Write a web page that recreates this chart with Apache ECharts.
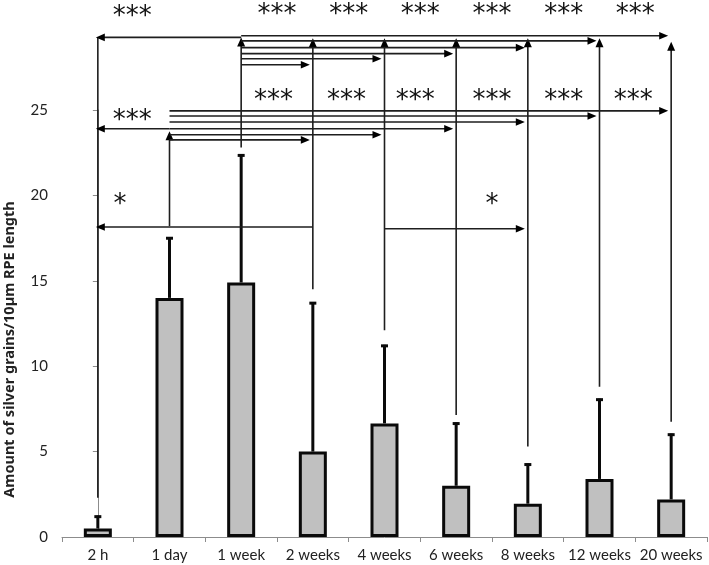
<!DOCTYPE html>
<html><head><meta charset="utf-8">
<script src="https://cdn.jsdelivr.net/npm/echarts@6/dist/echarts.min.js"></script>
<style>html,body{margin:0;padding:0;background:#fff}#c{width:709px;height:565px}</style>
</head><body><div id="c"></div>
<script>
// ---- data ----
const categories = ['2 h', '1 day', '1 week', '2 weeks', '4 weeks', '6 weeks', '8 weeks', '12 weeks', '20 weeks'];
const means = [0.5, 14.0, 14.9, 5.0, 6.65, 3.0, 1.95, 3.4, 2.2];
const errUpper = [1.25, 17.55, 22.4, 13.75, 11.25, 6.7, 4.3, 8.1, 6.05];
const yMin = 0, yMax = 25, yStep = 5;

// comparison brackets: vertical lines per category
const vertCat = [0, 1, 2, 3, 4, 5, 6, 7, 8];
const vertBottom = [2.3, 18.2, 22.8, 14.5, 12.1, 7.15, 5.3, 8.8, 6.75];
const vertTop = [29.25, 23.75, 29.25, 29.2, 29.2, 29.2, 29.2, 29.2, 29.0];
const vertArrowUp = [0, 1, 1, 1, 1, 1, 1, 1, 1];

// horizontal arrows: from category -> to category at height
const arrowFrom = [2, 2, 2, 2, 2, 2, 2, 1, 1, 1, 1, 1, 1, 1, 3, 4];
const arrowTo = [0, 8, 7, 6, 5, 4, 3, 0, 8, 7, 6, 5, 4, 3, 0, 6];
const arrowY = [29.25, 29.35, 29.05, 28.65, 28.3, 28.0, 27.65, 23.9, 24.95, 24.65, 24.3, 23.9, 23.55, 23.25, 18.15, 18.05];

// significance labels
const sigText = ['***', '***', '***', '***', '***', '***', '***', '***', '***', '***', '***', '***', '***', '***', '*', '*'];
const sigX = [0.48, 2.5, 3.5, 4.5, 5.5, 6.5, 7.5, 0.48, 2.45, 3.47, 4.43, 5.5, 6.5, 7.47, 0.31, 5.5];
const sigY = [30.9, 31.0, 31.0, 31.0, 31.0, 31.0, 31.0, 24.8, 25.95, 25.95, 25.95, 25.95, 25.95, 25.95, 19.9, 19.9];

// ---- chart ----
const chart = echarts.init(document.getElementById('c'), null, {renderer: 'canvas'});
const LINE = '#1e1e1e';
const labelFont = 'Lato, "Liberation Sans", sans-serif';
const STAR_SIZE = 26;

const option = {
  animation: false,
  backgroundColor: '#fff',
  grid: {left: 62, right: 2, top: 110, bottom: 28, containLabel: false, outerBoundsMode: 'none'},
  xAxis: [{
    type: 'category', data: categories,
    axisLine: {lineStyle: {color: '#8c8c8c', width: 1}},
    axisTick: {show: true, length: 5, lineStyle: {color: '#8c8c8c'}},
    axisLabel: {color: '#222', fontSize: 15, fontFamily: labelFont, margin: 11, interval: 0, hideOverlap: false},
  }, {
    type: 'value', min: -0.5, max: 8.5, show: false
  }],
  yAxis: {
    type: 'value', min: yMin, max: yMax, interval: yStep,
    name: 'Amount of silver grains/10µm RPE length',
    nameLocation: 'middle', nameGap: 45,
    nameTextStyle: {fontSize: 14.5, fontWeight: 'bold', color: '#222', fontFamily: '"Noto Sans", sans-serif', padding: [0, 52, 0, 0]},
    axisLine: {show: true, lineStyle: {color: '#8c8c8c'}},
    axisTick: {show: true, length: 5, lineStyle: {color: '#8c8c8c'}},
    axisLabel: {color: '#222', fontSize: 15, fontFamily: labelFont, margin: 14},
    splitLine: {show: false}
  },
  series: [{
    type: 'bar', xAxisIndex: 0, data: means, barWidth: 28,
    itemStyle: {color: '#c0c0c0', borderColor: '#0a0a0a', borderWidth: 3}
  }, {
    type: 'custom', xAxisIndex: 0, clip: false, z: 5,
    data: categories.map((c, i) => [i, means[i], errUpper[i]]),
    renderItem(params, api) {
      const a = api.coord([api.value(0), api.value(1)]);
      const b = api.coord([api.value(0), api.value(2)]);
      return {type: 'group', children: [
        {type: 'line', shape: {x1: a[0], y1: a[1], x2: b[0], y2: b[1]}, style: {stroke: '#0a0a0a', lineWidth: 3}},
        {type: 'line', shape: {x1: b[0] - 3.5, y1: b[1] + 1, x2: b[0] + 3.5, y2: b[1] + 1}, style: {stroke: '#0a0a0a', lineWidth: 3}}
      ]};
    }
  }, {
    type: 'custom', xAxisIndex: 1, clip: false, z: 6,
    data: vertCat.map((c, i) => [c, vertBottom[i], vertTop[i], vertArrowUp[i]]),
    renderItem(params, api) {
      const a = api.coord([api.value(0), api.value(1)]);
      const b = api.coord([api.value(0), api.value(2)]);
      const ch = [{type: 'line', shape: {x1: a[0], y1: a[1], x2: b[0], y2: b[1] + (api.value(3) ? 4 : 0)}, style: {stroke: LINE, lineWidth: 1.6}}];
      if (api.value(3)) ch.push({type: 'polygon', shape: {points: [[b[0], b[1]], [b[0] - 4, b[1] + 9], [b[0] + 4, b[1] + 9]]}, style: {fill: '#000'}});
      return {type: 'group', children: ch};
    }
  }, {
    type: 'custom', xAxisIndex: 1, clip: false, z: 6,
    data: arrowFrom.map((f, i) => [f, arrowTo[i], arrowY[i]]),
    renderItem(params, api) {
      const a = api.coord([api.value(0), api.value(2)]);
      const b = api.coord([api.value(1), api.value(2)]);
      const dir = b[0] > a[0] ? 1 : -1;
      const tip = b[0] - dir * (dir > 0 ? 3 : -2);
      return {type: 'group', children: [
        {type: 'line', shape: {x1: a[0], y1: a[1], x2: tip - dir * 4, y2: b[1]}, style: {stroke: LINE, lineWidth: 1.6}},
        {type: 'polygon', shape: {points: [[tip, b[1]], [tip - dir * 9, b[1] - 3.8], [tip - dir * 9, b[1] + 3.8]]}, style: {fill: '#000'}}
      ]};
    }
  }, {
    type: 'custom', xAxisIndex: 1, clip: false, z: 7,
    data: sigX.map((x, i) => [x, sigY[i], i]),
    renderItem(params, api) {
      const p = api.coord([api.value(0), api.value(1)]);
      const t = sigText[api.value(2)];
      return {type: 'text', style: {text: t, x: p[0], y: p[1] + STAR_SIZE * 0.3, align: 'center', verticalAlign: 'middle',
        fill: '#111', font: STAR_SIZE + 'px "DejaVu Sans"'}};
    }
  }]
};
chart.setOption(option);
</script>
</body></html>
